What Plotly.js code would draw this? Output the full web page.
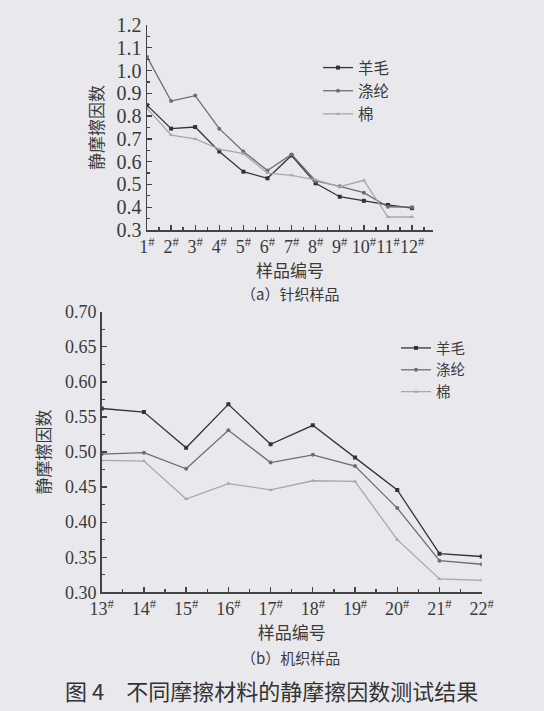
<!DOCTYPE html>
<html>
<head>
<meta charset="utf-8">
<script src="https://cdn.plot.ly/plotly-3.0.1.min.js"></script>
<style>
  html, body { margin: 0; padding: 0; background: #e9e9ed; }
  #chart { width: 544px; height: 711px; }
</style>
</head>
<body>
<div id="chart"></div>
<script>
// ---- Data ----
const seriesNames = ['羊毛', '涤纶', '棉'];

// (a) knitted samples 1#-12#
const knitSamples = [1, 2, 3, 4, 5, 6, 7, 8, 9, 10, 11, 12];
const knitTickText = ['1<sup>#</sup>', '2<sup>#</sup>', '3<sup>#</sup>', '4<sup>#</sup>', '5<sup>#</sup>', '6<sup>#</sup>',
                      '7<sup>#</sup>', '8<sup>#</sup>', '9<sup>#</sup>', '10<sup>#</sup>', '11<sup>#</sup>', '12<sup>#</sup>'];
const knitWool   = [0.848, 0.745, 0.752, 0.645, 0.556, 0.527, 0.627, 0.505, 0.446, 0.428, 0.410, 0.396];
const knitPoly   = [1.060, 0.866, 0.890, 0.745, 0.645, 0.561, 0.632, 0.515, 0.492, 0.464, 0.402, 0.400];
const knitCotton = [0.834, 0.717, 0.700, 0.655, 0.635, 0.550, 0.540, 0.520, 0.490, 0.518, 0.357, 0.357];

// (b) woven samples 13#-22#
const wovenSamples = [13, 14, 15, 16, 17, 18, 19, 20, 21, 22];
const wovenTickText = ['13<sup>#</sup>', '14<sup>#</sup>', '15<sup>#</sup>', '16<sup>#</sup>', '17<sup>#</sup>',
                       '18<sup>#</sup>', '19<sup>#</sup>', '20<sup>#</sup>', '21<sup>#</sup>', '22<sup>#</sup>'];
const wovenWool   = [0.562, 0.557, 0.506, 0.568, 0.511, 0.538, 0.492, 0.446, 0.355, 0.351];
const wovenPoly   = [0.497, 0.499, 0.476, 0.531, 0.485, 0.496, 0.480, 0.420, 0.345, 0.340];
const wovenCotton = [0.488, 0.487, 0.433, 0.455, 0.446, 0.459, 0.458, 0.375, 0.319, 0.317];

// ---- Styles ----
const serif = 'Liberation Serif, Times New Roman, serif';
const cjk = 'Noto Sans CJK SC';
const textColor = '#3a3a3a';
const lineColors = ['#333333', '#6e6e6e', '#a8a8a8'];
const markerSymbols = ['square', 'circle', 'triangle-up'];

function mk(x, y, i, xa, ya, leg) {
  return {
    x: x, y: y, name: seriesNames[i], type: 'scatter', mode: 'lines+markers',
    xaxis: xa, yaxis: ya, legend: leg,
    line: { color: lineColors[i], width: 1.3 },
    marker: { symbol: markerSymbols[i], size: 4, color: lineColors[i] }
  };
}

const data = [
  mk(knitSamples, knitWool, 0, 'x', 'y', 'legend'),
  mk(knitSamples, knitPoly, 1, 'x', 'y', 'legend'),
  mk(knitSamples, knitCotton, 2, 'x', 'y', 'legend'),
  mk(wovenSamples, wovenWool, 0, 'x2', 'y2', 'legend2'),
  mk(wovenSamples, wovenPoly, 1, 'x2', 'y2', 'legend2'),
  mk(wovenSamples, wovenCotton, 2, 'x2', 'y2', 'legend2')
];

const axisCommon = {
  showgrid: false, zeroline: false, showline: true, linecolor: '#444', linewidth: 1.5,
  ticks: 'inside', ticklen: 5, tickwidth: 1.3, tickcolor: '#444',
  color: textColor
};

const layout = {
  width: 544, height: 711,
  margin: { l: 0, r: 0, t: 0, b: 0 },
  paper_bgcolor: '#e9e9ed', plot_bgcolor: 'rgba(0,0,0,0)',
  font: { family: serif, color: textColor },
  showlegend: true,
  xaxis: Object.assign({}, axisCommon, {
    domain: [147/544, 433/544], anchor: 'y', range: [1, 12.87],
    tickmode: 'array', tickvals: knitSamples, ticktext: knitTickText, tickangle: 0,
    tickfont: { family: serif, size: 18, color: textColor },
    minor: { ticks: 'inside', ticklen: 3, dtick: 0.5, tick0: 1, tickcolor: '#444' },
    title: { text: '样品编号', font: { family: cjk, size: 17, color: textColor }, standoff: 0 }
  }),
  yaxis: Object.assign({}, axisCommon, {
    domain: [(711-230)/711, (711-25)/711], anchor: 'x', range: [0.3, 1.2],
    tickmode: 'linear', tick0: 0.3, dtick: 0.1, tickformat: '.1f',
    tickfont: { family: serif, size: 20, color: textColor },
    minor: { ticks: 'inside', ticklen: 3, dtick: 0.05, tickcolor: '#444' },
    title: { text: '静摩擦因数', font: { family: cjk, size: 17, color: textColor }, standoff: 8 }
  }),
  xaxis2: Object.assign({}, axisCommon, {
    domain: [101.7/544, 481.7/544], anchor: 'y2', range: [13, 22],
    tickmode: 'array', tickvals: wovenSamples, ticktext: wovenTickText, tickangle: 0,
    tickfont: { family: serif, size: 18, color: textColor },
    minor: { ticks: 'inside', ticklen: 3, dtick: 0.5, tick0: 13, tickcolor: '#444' },
    title: { text: '样品编号', font: { family: cjk, size: 17, color: textColor }, standoff: 2 }
  }),
  yaxis2: Object.assign({}, axisCommon, {
    domain: [(711-592.3)/711, (711-311.7)/711], anchor: 'x2', range: [0.3, 0.7],
    tickmode: 'linear', tick0: 0.3, dtick: 0.05, tickformat: '.2f',
    tickfont: { family: serif, size: 18, color: textColor },
    minor: { ticks: 'inside', ticklen: 3, dtick: 0.025, tickcolor: '#444' },
    title: { text: '静摩擦因数', font: { family: cjk, size: 17, color: textColor }, standoff: 10 }
  }),
  legend: {
    x: 318/544, y: (711-51)/711, xanchor: 'left', yanchor: 'top',
    bgcolor: 'rgba(0,0,0,0)', font: { family: cjk, size: 15.5, color: textColor },
    itemwidth: 30, tracegroupgap: 0
  },
  legend2: {
    x: 396/544, y: (711-332)/711, xanchor: 'left', yanchor: 'top',
    bgcolor: 'rgba(0,0,0,0)', font: { family: cjk, size: 14.5, color: textColor },
    itemwidth: 30, tracegroupgap: 0
  },
  annotations: [
    { text: '（a）针织样品', x: 290/544, y: (711-294)/711, xref: 'paper', yref: 'paper',
      xanchor: 'center', yanchor: 'middle',
      showarrow: false, font: { family: cjk, size: 15, color: textColor } },
    { text: '（b）机织样品', x: 290/544, y: (711-657)/711, xref: 'paper', yref: 'paper',
      xanchor: 'center', yanchor: 'middle',
      showarrow: false, font: { family: cjk, size: 15, color: textColor } },
    { text: '图 4　不同摩擦材料的静摩擦因数测试结果', x: 271/544, y: (711-690)/711, xref: 'paper', yref: 'paper',
      xanchor: 'center', yanchor: 'middle',
      showarrow: false, font: { family: cjk, size: 22, color: '#333' } }
  ]
};

Plotly.newPlot('chart', data, layout, { displayModeBar: false, staticPlot: true });
</script>
</body>
</html>
